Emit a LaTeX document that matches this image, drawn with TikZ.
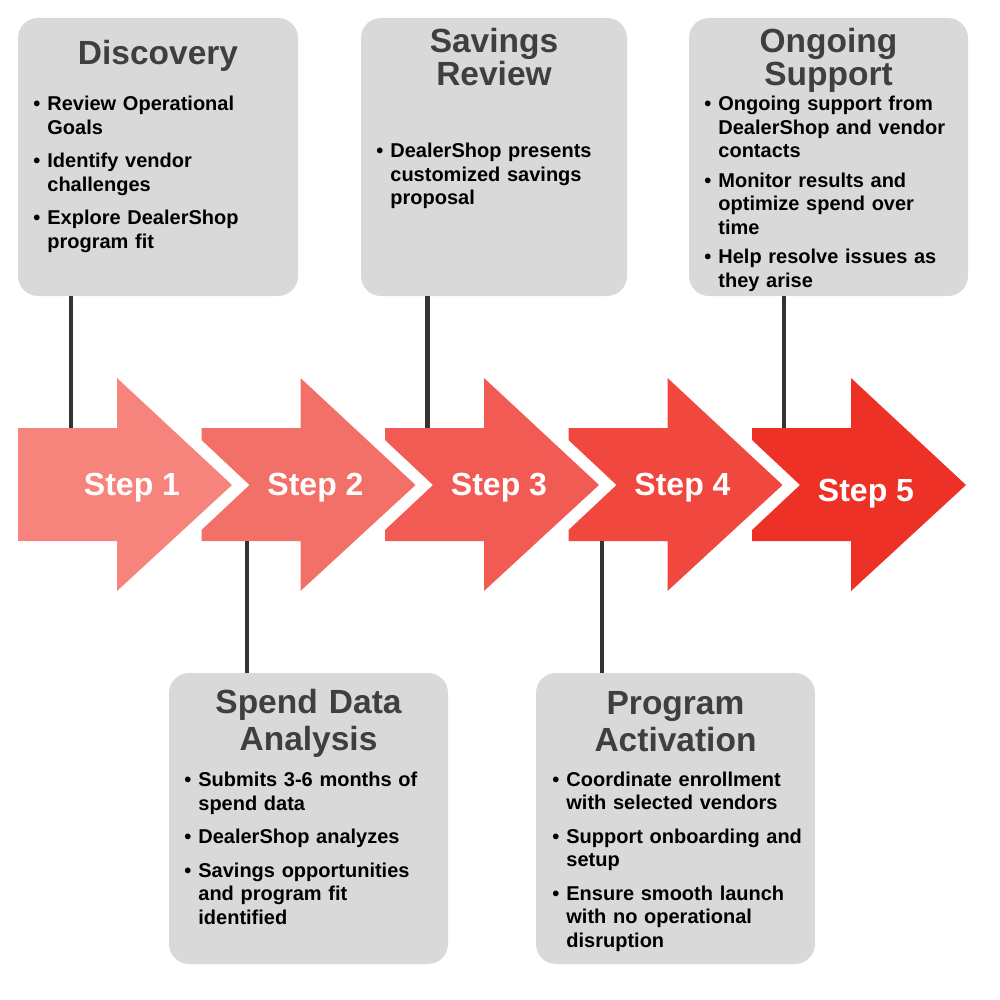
\documentclass[tikz,border=0pt]{standalone}
\usepackage{fontspec}
\setmainfont{Liberation Sans}
\usetikzlibrary{positioning}
\definecolor{boxgray}{HTML}{D9D9D9}
\definecolor{titlegray}{HTML}{3F3F3F}
\definecolor{linegray}{HTML}{333333}
\definecolor{stepa}{HTML}{F6847C}
\definecolor{stepb}{HTML}{F37068}
\definecolor{stepc}{HTML}{F15B54}
\definecolor{stepd}{HTML}{F0483F}
\definecolor{stepe}{HTML}{EE3127}
\newcommand{\bul}[1]{\noindent\hangindent=7pt\hangafter=1\makebox[7pt][l]{\textbullet}#1\par}
\newcommand{\bgap}[1][5pt]{\vspace{#1}}
\tikzstyle{infobox} = [rectangle, rounded corners=10pt, fill=boxgray, inner sep=0pt]
\tikzstyle{boxtitle} = [anchor=base, text width=135pt, align=center, inner sep=0pt, text=titlegray, font=\fontsize{16.75}{16.5}\selectfont\bfseries]
\tikzstyle{bullets} = [anchor=base west, text width=135pt, inner sep=0pt, font=\fontsize{10}{11.75}\selectfont\bfseries]
\tikzstyle{steptext} = [text=white, inner sep=0pt, font=\fontsize{16}{19}\selectfont\bfseries]
\tikzstyle{link} = [draw=linegray, line width=2.25pt]
\begin{document}
\begin{tikzpicture}[x=0.5pt, y=-0.5pt, node distance=91.75pt]
  \useasboundingbox (0,0) rectangle (1000,1000);

  \fill[stepa] (18,428) -- (117,428) -- (117,378) -- (232,485) -- (117,591) -- (117,541) -- (18,541) -- cycle;
  \foreach \col [count=\i] in {stepb,stepc,stepd,stepe}
    \fill[\col, xshift=\i*91.75pt] (18,428) -- (117,428) -- (117,378) -- (232,485) -- (117,591) -- (117,541)
      -- (18,541) -- (18,530) -- (66,485) -- (18,440) -- cycle;

  \node (s1) [steptext] at (132,488) {Step 1};
  \node (s2) [steptext, right of=s1] {Step 2};
  \node (s3) [steptext, right of=s2] {Step 3};
  \node (s4) [steptext, right of=s3] {Step 4};
  \node (s5) [steptext, right of=s4, yshift=-3pt] {Step 5};

  \node (disc) [infobox, minimum width=140pt, minimum height=139pt] at (158,157) {};
  \node (sav) [infobox, minimum width=133pt, minimum height=139pt] at (494,157) {};
  \node (ong) [infobox, minimum width=139.5pt, minimum height=139pt] at (828.5,157) {};
  \node (spend) [infobox, minimum width=139.5pt, minimum height=145.5pt] at (308.5,818.5) {};
  \node (prog) [infobox, minimum width=139.5pt, minimum height=145.5pt] at (675.5,818.5) {};

  \node (disct) [boxtitle] at (158,65) {Discovery};
  \node (savt) [boxtitle] at (494,53) {Savings\\Review};
  \node (ongt) [boxtitle] at (828.5,53) {Ongoing\\Support};
  \node (spendt) [boxtitle, font=\fontsize{16.75}{18.5}\selectfont\bfseries] at (308.5,713) {Spend Data\\Analysis};
  \node (progt) [boxtitle, font=\fontsize{16.75}{18.5}\selectfont\bfseries] at (675.5,714) {Program\\Activation};

  \node (discl) [bullets] at (33,111) {\bul{Review Operational\newline Goals}\bgap\bul{Identify vendor\newline challenges}\bgap\bul{Explore DealerShop\newline program fit}};
  \node (savl) [bullets] at (376,158) {\bul{DealerShop presents\newline customized savings\newline proposal}};
  \node (ongl) [bullets] at (704,111) {\bul{Ongoing support from\newline DealerShop and vendor\newline contacts}\bgap[3pt]\bul{Monitor results and\newline optimize spend over\newline time}\bgap[3pt]\bul{Help resolve issues as\newline they arise}};
  \node (spendl) [bullets] at (184,786.5) {\bul{Submits 3-6 months of\newline spend data}\bgap\bul{DealerShop analyzes}\bgap\bul{Savings opportunities\newline and program fit\newline identified}};
  \node (progl) [bullets] at (552,786) {\bul{Coordinate enrollment\newline with selected vendors}\bgap\bul{Support onboarding and\newline setup}\bgap\bul{Ensure smooth launch\newline with no operational\newline disruption}};

  \coordinate (c1) at (71,428);
  \coordinate (c2) at (247,541);
  \coordinate (c3) at (427.5,428);
  \coordinate (c4) at (602,541);
  \coordinate (c5) at (784,428);
  \draw [link] (c1 |- disc.south) -- (c1);
  \draw [link] (c2) -- (c2 |- spend.north);
  \draw [link] (c3 |- sav.south) -- (c3);
  \draw [link] (c4) -- (c4 |- prog.north);
  \draw [link] (c5 |- ong.south) -- (c5);
\end{tikzpicture}
\end{document}
